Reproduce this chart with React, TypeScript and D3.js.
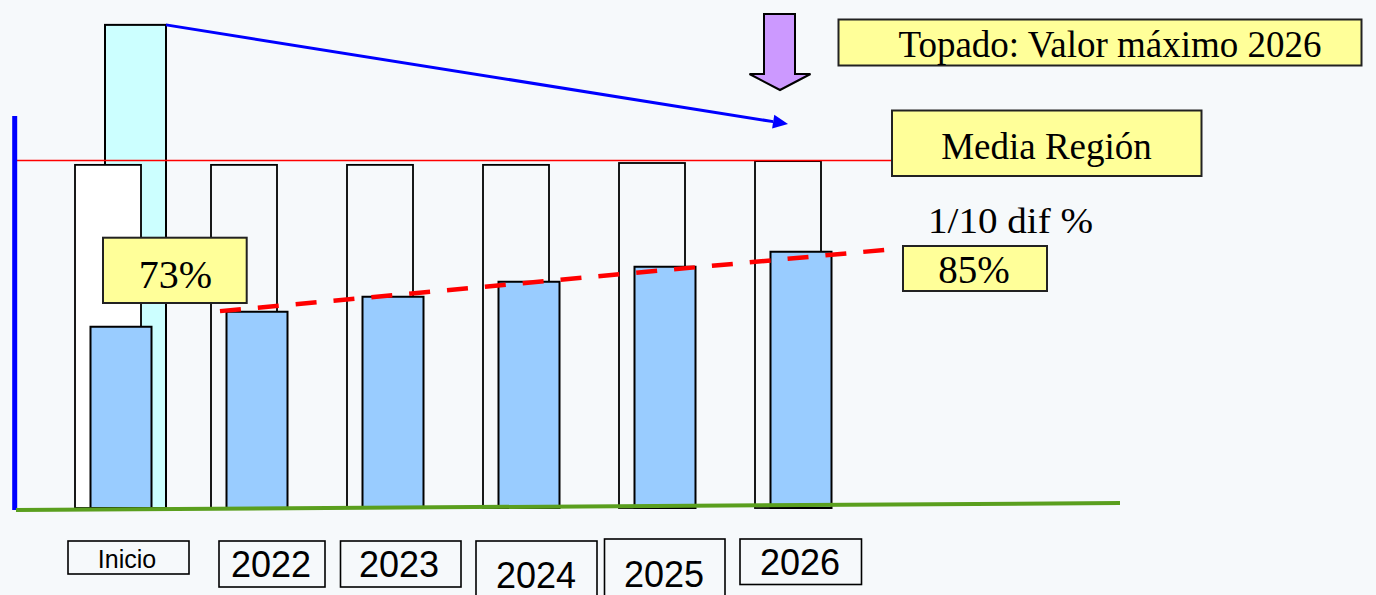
import * as d3 from "d3";
import React from "react";

// datos del gráfico (valores en %)
const categorias = ["Inicio", "2022", "2023", "2024", "2025", "2026"];
const valores = [73, 75.4, 77.8, 80.2, 82.6, 85];
const mediaRegionAnual = [98.9, 98.9, 98.9, 98.9, 99.2, 99.5];
const mediaRegion = 99.6;
const maximoInicio = 121.3;
// línea de tendencia: [posición en índice de categoría, valor]
const tendencia: [number, number][] = [
  [1.066, 75.5],
  [5.956, 85.3],
];
const etiquetaInicio = "73%";
const etiquetaFinal = "85%";

// cajas de las etiquetas inferiores (solo maquetación)
const cajasEtiquetas = [
  { x: 68, y: 541, w: 121, h: 33, tx: 127, ty: 568, fs: 25 },
  { x: 219, y: 541, w: 106, h: 46, tx: 271, ty: 577, fs: 36 },
  { x: 340.5, y: 541, w: 120.5, h: 46, tx: 399, ty: 577, fs: 36 },
  { x: 476, y: 541, w: 121, h: 60, tx: 536, ty: 588, fs: 36 },
  { x: 604.5, y: 539, w: 120.5, h: 60, tx: 664, ty: 587, fs: 36 },
  { x: 740, y: 539, w: 121.5, h: 45.5, tx: 800, ty: 575, fs: 36 },
];

const W = 1376;
const H = 595;
const serif = "'Liberation Serif', 'DejaVu Serif', serif";
const sans = "'Liberation Sans', Arial, sans-serif";

export default function App() {
  const x = d3.scaleBand<string>().domain(categorias).range([75, 891]).padding(0);
  const xi = d3.scaleLinear().domain([0, categorias.length]).range([75, 891]);
  const y = d3.scaleLinear().domain([44, 100]).range([508, 158]);

  const trendPath = d3
    .line<[number, number]>()
    .x((d) => xi(d[0]))
    .y((d) => y(d[1]))(tendencia) as string;

  // flecha azul
  const a0 = [x("Inicio")! + 30 + 61, y(maximoInicio)];
  const a1 = [788, 124];
  const ang = Math.atan2(a1[1] - a0[1], a1[0] - a0[0]);
  const hl = 15;
  const hw = 7;
  const bx = a1[0] - hl * Math.cos(ang);
  const by = a1[1] - hl * Math.sin(ang);
  const head = [
    [a1[0], a1[1]],
    [bx + hw * Math.sin(ang), by - hw * Math.cos(ang)],
    [bx - hw * Math.sin(ang), by + hw * Math.cos(ang)],
  ]
    .map((p) => p.join(","))
    .join(" ");

  return (
    <svg
      width={W}
      height={H}
      style={{ position: "absolute", left: 0, top: 0 }}
    >
      <rect width={W} height={H} fill="#F6F9FB" />

      {/* barra máxima inicial */}
      <rect
        x={x("Inicio")! + 30}
        y={y(maximoInicio)}
        width={61}
        height={y(44) - y(maximoInicio)}
        fill="#CCFFFF"
        stroke="#000"
        strokeWidth={2}
      />

      {/* barras media región */}
      {categorias.map((c, i) => (
        <rect
          key={"m" + c}
          x={x(c)!}
          y={y(mediaRegionAnual[i])}
          width={66}
          height={y(44) - y(mediaRegionAnual[i])}
          fill={i === 0 ? "#FFFFFF" : "none"}
          stroke="#000"
          strokeWidth={1.8}
        />
      ))}

      {/* línea media región */}
      <line
        x1={15}
        x2={892}
        y1={y(mediaRegion)}
        y2={y(mediaRegion)}
        stroke="#FF0000"
        strokeWidth={1.6}
      />

      {/* barras valores */}
      {categorias.map((c, i) => (
        <rect
          key={"v" + c}
          x={x(c)! + 15.5}
          y={y(valores[i])}
          width={61}
          height={y(44) - y(valores[i])}
          fill="#99CCFF"
          stroke="#000"
          strokeWidth={2}
        />
      ))}

      {/* eje vertical y base */}
      <line x1={14.7} x2={14.7} y1={116} y2={510} stroke="#0000FF" strokeWidth={5} />
      <line x1={16} x2={1120} y1={510} y2={503} stroke="#5A9F1E" strokeWidth={4} />

      {/* tendencia */}
      <path
        d={trendPath}
        fill="none"
        stroke="#FF0000"
        strokeWidth={4.5}
        strokeDasharray="21 17"
      />

      {/* flecha azul */}
      <line x1={a0[0]} y1={a0[1]} x2={bx} y2={by} stroke="#0000FF" strokeWidth={3} />
      <polygon points={head} fill="#0000FF" />

      {/* flecha morada */}
      <polygon
        points="764,14 795,14 795,74 810.5,74 780,90 749.5,74 764,74"
        fill="#CC99FF"
        stroke="#000"
        strokeWidth={2}
      />

      {/* cajas amarillas */}
      <rect x={838.5} y={19.5} width={523} height={46} fill="#FFFF99" stroke="#222" strokeWidth={2} />
      <text x={1110} y={56.7} textAnchor="middle" fontFamily={serif} fontSize={37} fill="#000">
        Topado: Valor máximo 2026
      </text>

      <rect x={892} y={110.5} width={309.5} height={65.5} fill="#FFFF99" stroke="#222" strokeWidth={2} />
      <text x={1046.5} y={159.3} textAnchor="middle" fontFamily={serif} fontSize={37} fill="#000">
        Media Región
      </text>

      <text
        x={928}
        y={233}
        fontFamily={serif}
        fontSize={36}
        fill="#000"
        textLength={165}
        lengthAdjust="spacingAndGlyphs"
      >
        1/10 dif %
      </text>
      <rect x={903} y={246} width={144} height={45} fill="#FFFF99" stroke="#222" strokeWidth={2} />
      <text x={974} y={283} textAnchor="middle" fontFamily={serif} fontSize={39} fill="#000">
        {etiquetaFinal}
      </text>

      <rect x={103} y={237.7} width={143.7} height={65.3} fill="#FFFF99" stroke="#222" strokeWidth={2} />
      <text x={175.4} y={287.7} textAnchor="middle" fontFamily={serif} fontSize={40} fill="#000">
        {etiquetaInicio}
      </text>

      {/* etiquetas inferiores */}
      {categorias.map((c, i) => {
        const b = cajasEtiquetas[i];
        return (
          <g key={"e" + c}>
            <rect x={b.x} y={b.y} width={b.w} height={b.h} fill="none" stroke="#000" strokeWidth={1.6} />
            <text x={b.tx} y={b.ty} textAnchor="middle" fontFamily={sans} fontSize={b.fs} fill="#000">
              {c}
            </text>
          </g>
        );
      })}
    </svg>
  );
}
